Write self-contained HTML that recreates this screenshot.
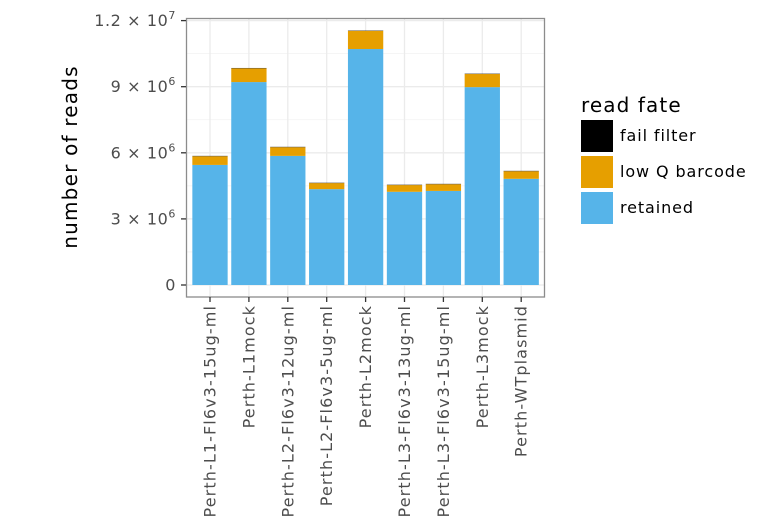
<!DOCTYPE html>
<html><head><meta charset="utf-8"><style>
html,body{margin:0;padding:0;background:#fff;}
svg{display:block;font-family:"DejaVu Sans","Liberation Sans",sans-serif;}
</style></head><body>
<svg id="chart" width="784" height="532" viewBox="0 0 784 532">
<rect x="0" y="0" width="784" height="532" fill="#fff"/>
<g id="grid"></g>
<g id="bars"></g>
<rect x="186.5" y="18.5" width="358" height="278.5" fill="none" stroke="#8c8c8c" stroke-width="1.3"/>
<g id="yaxis"></g>
<g id="xaxis"></g>
<text x="77" y="157" font-size="20" letter-spacing="1.2" fill="#000" text-anchor="middle" transform="rotate(-90 77 157)">number of reads</text>
<g>
<text x="581" y="112" font-size="20" letter-spacing="1.1" fill="#000">read fate</text>
<rect x="581" y="120" width="32" height="32" fill="#000"/>
<text x="620" y="141" font-size="16" letter-spacing="0.9" fill="#000">fail filter</text>
<rect x="581" y="156" width="32" height="32" fill="#E69F00"/>
<text x="620" y="177" font-size="16" letter-spacing="0.9" fill="#000">low Q barcode</text>
<rect x="581" y="192" width="32" height="32" fill="#56B4E9"/>
<text x="620" y="213" font-size="16" letter-spacing="0.9" fill="#000">retained</text>
</g>
</svg>
<script>
const categories = ["Perth-L1-Fl6v3-15ug-ml","Perth-L1mock","Perth-L2-Fl6v3-12ug-ml","Perth-L2-Fl6v3-5ug-ml","Perth-L2mock","Perth-L3-Fl6v3-13ug-ml","Perth-L3-Fl6v3-15ug-ml","Perth-L3mock","Perth-WTplasmid"];
const retained = [5450000,9210000,5860000,4350000,10710000,4230000,4270000,8980000,4820000];
const lowQBarcode = [395000,625000,395000,275000,825000,305000,305000,595000,345000];
const failFilter = [15000,15000,15000,15000,15000,15000,15000,15000,15000];
const yTicks = [0,3000000,6000000,9000000,12000000];
const yTickLabels = ["0","3 × 10^6","6 × 10^6","9 × 10^6","1.2 × 10^7"];

const NS = "http://www.w3.org/2000/svg";
const y0 = 285, pxPer = 66.1/3000000;
function yScale(v){ return y0 - v*pxPer; }
const step = 38.9, x0 = 210;
function xScale(i){ return x0 + i*step; }
const bw = 35.3;
function mk(tag, attrs, parent){ const e=document.createElementNS(NS,tag); for(const k in attrs) e.setAttribute(k,attrs[k]); parent.appendChild(e); return e; }

const grid = document.getElementById('grid');
for(let i=0;i<yTicks.length;i++){
  const l = mk('line',{x1:187,x2:544,y1:yScale(yTicks[i]),y2:yScale(yTicks[i]),stroke:'#ebebeb','stroke-width':1.3},grid);
  
  
  if(i<yTicks.length-1){
    const m=(yTicks[i]+yTicks[i+1])/2;
    const l2 = mk('line',{x1:187,x2:544,y1:yScale(m),y2:yScale(m),stroke:'#f2f2f2','stroke-width':0.8},grid);
    
    
  }
}
categories.forEach((c,i)=>{
  const l = mk('line',{x1:xScale(i),x2:xScale(i),y1:19,y2:296,stroke:'#ebebeb','stroke-width':1.3},grid);
  
  
});

const bars = document.getElementById('bars');
categories.forEach((c,i)=>{
  const x = xScale(i)-bw/2;
  const segs = [[retained[i],'#56B4E9','retained'],[lowQBarcode[i],'#E69F00','low-q-barcode'],[failFilter[i],'#000','fail-filter']];
  let base = 0;
  segs.forEach(s=>{
    const top = base + s[0];
    const r = mk('rect',{x:x,y:yScale(top),width:bw,height:yScale(base)-yScale(top),fill:s[1]},bars);
    
    
    base = top;
  });
});

const ya = document.getElementById('yaxis');
yTicks.forEach((v,i)=>{
  const y = yScale(v);
  const t = mk('line',{x1:181,x2:186,y1:y,y2:y,stroke:'#333','stroke-width':1.3},ya);
  
  
  const txt = mk('text',{x:176,y:y+5.5,'font-size':16,'letter-spacing':0.6,fill:'#4d4d4d','text-anchor':'end'},ya);
  
  
  const parts = yTickLabels[i].split('^');
  txt.appendChild(document.createTextNode(parts[0]));
  if(parts[1]){
    const ts = document.createElementNS(NS,'tspan');
    ts.setAttribute('dy','-7'); ts.setAttribute('font-size','11');
    ts.textContent = parts[1];
    txt.appendChild(ts);
  }
});

const xa = document.getElementById('xaxis');
categories.forEach((c,i)=>{
  const x = xScale(i);
  const t = mk('line',{x1:x,x2:x,y1:297,y2:302,stroke:'#333','stroke-width':1.3},xa);
  
  
  const txt = mk('text',{x:x+5.5,y:305,'font-size':16,'letter-spacing':1.1,fill:'#4d4d4d','text-anchor':'end',transform:`rotate(-90 ${x+5.5} 305)`},xa);
  
  
  txt.textContent = c;
});
</script>
</body></html>
